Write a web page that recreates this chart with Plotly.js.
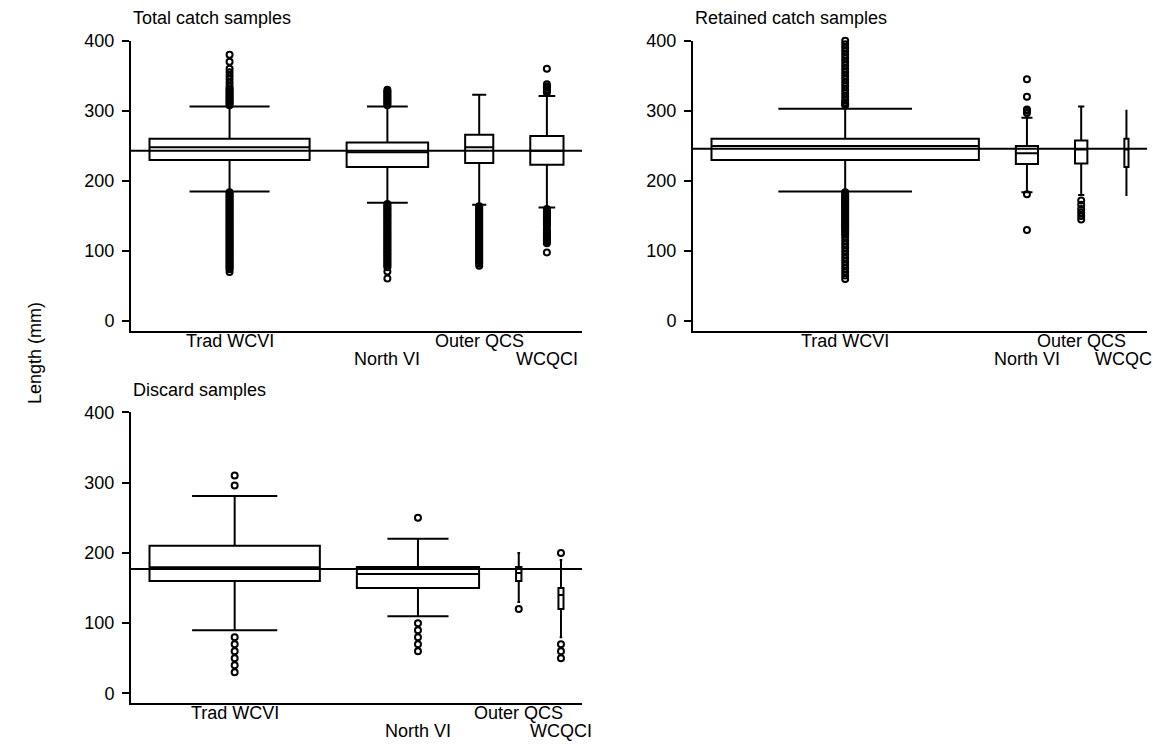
<!DOCTYPE html>
<html>
<head>
<meta charset="utf-8">
<script src="https://cdn.plot.ly/plotly-3.0.1.min.js"></script>
<style>html,body{margin:0;padding:0;background:#fff;}#chart{width:1153px;height:745px;}</style>
</head>
<body>
<div id="chart"></div>
<script>
// ---------------- data ----------------
const groups = ['Trad WCVI', 'North VI', 'Outer QCS', 'WCQCI'];
const panelTitles = ['Total catch samples', 'Retained catch samples', 'Discard samples'];
const yTickVals = [0, 100, 200, 300, 400];
const yAxisTitle = 'Length (mm)';

// Total catch samples
const totalN = [25300, 6560, 780, 1090];
const totalLowerFence = [185, 169, 166, 162];
const totalQ1 = [230, 220, 225.5, 223];
const totalMedian = [248, 241, 248, 243];
const totalQ3 = [260, 255, 266, 264];
const totalUpperFence = [306, 306, 323, 321];
const totalOverallMedian = 243;
const totalOutliers = [
  [308,310,312,314,316,318,320,322,324,326,328,330,332,335,340,345,350,355,360,370,380,
   184,182,180,178,176,174,172,170,168,166,164,162,160,158,156,154,152,150,148,146,144,142,140,138,136,134,132,130,128,126,124,122,120,118,116,114,112,110,108,106,104,102,100,98,96,94,92,90,88,86,84,82,80,78,76,74,70],
  [308,310,312,314,316,318,320,322,324,326,328,330,
   167,165,163,161,159,157,155,153,151,149,147,145,143,141,139,137,135,133,131,129,127,125,123,121,119,117,115,113,111,109,107,105,103,101,99,97,95,93,91,89,87,85,83,81,79,77,71,61],
  [164,162,160,158,156,154,152,150,148,146,144,142,140,138,136,134,132,130,128,126,124,122,120,118,116,114,112,110,108,106,104,102,100,98,96,94,92,90,88,86,84,82,79],
  [326,328,330,333,335,338,360,
   160,158,156,154,152,150,148,146,144,142,140,138,136,131,129,127,125,123,121,119,117,115,113,111,98]
];

// Retained catch samples
const retainedN = [21000, 144, 45, 5];
const retainedLowerFence = [185, 184, 180, 180];
const retainedQ1 = [230, 224, 225, 220];
const retainedMedian = [250, 239.5, 245, 245];
const retainedQ3 = [260, 250, 257.5, 260];
const retainedUpperFence = [303, 290, 306, 300];
const retainedOverallMedian = 246;
const retainedOutliers = [
  [308,310,312,315,320,325,330,335,340,345,350,355,360,365,370,375,380,385,390,395,400,
   184,182,180,178,176,174,172,170,168,166,164,162,160,158,156,154,152,150,148,146,144,142,140,138,136,134,132,130,127,124,120,115,110,105,100,95,90,85,80,75,70,65,60],
  [345,320,302,300,297,181,130],
  [172,166,160,155,150,145],
  []
];

// Discard samples
const discardN = [28300, 14570, 28, 25];
const discardLowerFence = [90, 110, 130, 80];
const discardQ1 = [160, 150, 160, 120];
const discardMedian = [179.5, 170, 171.5, 140];
const discardQ3 = [210, 180, 180, 150];
const discardUpperFence = [281, 220, 200, 190];
const discardOverallMedian = 177;
const discardOutliers = [
  [310,296,80,70,60,50,40,30],
  [250,100,90,80,70,60],
  [120],
  [200,70,60,50]
];

// ---------------- layout helpers ----------------
const W = 1153, H = 745;
const FONT = 'Liberation Sans, Arial, Helvetica, sans-serif';
const FS = 18;
const LW = 2;

function placeBoxes(n, axisPx) {
  const pad = 18.5 / axisPx, gap = 37 / axisPx;
  const boxTotal = 1 - 2 * pad - 3 * gap;
  const s = n.map(Math.sqrt);
  const tot = s.reduce((a, b) => a + b, 0);
  const widths = s.map(v => v / tot * boxTotal);
  let cur = pad;
  const centers = widths.map(w => { const c = cur + w / 2; cur += w + gap; return c; });
  return { widths, centers };
}

const panels = [
  { n: totalN, lf: totalLowerFence, q1: totalQ1, med: totalMedian, q3: totalQ3, uf: totalUpperFence, ref: totalOverallMedian, out: totalOutliers,
    px: [131, 582], py: [331, 40.7] },
  { n: retainedN, lf: retainedLowerFence, q1: retainedQ1, med: retainedMedian, q3: retainedQ3, uf: retainedUpperFence, ref: retainedOverallMedian, out: retainedOutliers,
    px: [693, 1147], py: [331, 40.7] },
  { n: discardN, lf: discardLowerFence, q1: discardQ1, med: discardMedian, q3: discardQ3, uf: discardUpperFence, ref: discardOverallMedian, out: discardOutliers,
    px: [131, 582], py: [703.3, 412.3] }
];
const titleY = [18, 18, 390];

const traces = [];
const annotations = [];
const shapes = [];
const layout = {
  width: W, height: H,
  margin: { l: 0, r: 0, t: 0, b: 0, pad: 0 },
  paper_bgcolor: '#fff', plot_bgcolor: 'rgba(0,0,0,0)',
  showlegend: false,
  font: { family: FONT, size: FS, color: '#000' },
  annotations, shapes
};

panels.forEach((p, k) => {
  const sfx = k === 0 ? '' : String(k + 1);
  const xa = 'x' + sfx, ya = 'y' + sfx;
  const xd = [p.px[0] / W, p.px[1] / W];
  const yd = [1 - p.py[0] / H, 1 - p.py[1] / H];
  const { widths, centers } = placeBoxes(p.n, p.px[1] - p.px[0]);

  layout['xaxis' + sfx] = {
    domain: xd, anchor: ya, range: [0, 1], fixedrange: true,
    showgrid: false, zeroline: false, showticklabels: false, ticks: '',
    showline: true, linecolor: '#000', linewidth: LW
  };
  layout['yaxis' + sfx] = {
    domain: yd, anchor: xa, range: [-14, 400], fixedrange: true,
    showgrid: false, zeroline: false,
    tickmode: 'array', tickvals: yTickVals, ticktext: yTickVals.map(String),
    ticks: 'outside', ticklen: 7, tickwidth: LW, tickcolor: '#000',
    tickfont: { family: FONT, size: FS, color: '#000' },
    ticklabelstandoff: 4,
    showline: true, linecolor: '#000', linewidth: LW
  };

  groups.forEach((g, i) => {
    traces.push({
      type: 'box', xaxis: xa, yaxis: ya,
      x: [centers[i]],
      q1: [p.q1[i]], median: [p.med[i]], q3: [p.q3[i]],
      lowerfence: [p.lf[i]], upperfence: [p.uf[i]],
      width: widths[i], whiskerwidth: 0.5,
      boxpoints: false, fillcolor: '#fff',
      line: { color: '#000', width: LW },
      hoverinfo: 'skip', name: g
    });
    if (p.out[i].length) {
      traces.push({
        type: 'scatter', mode: 'markers', xaxis: xa, yaxis: ya,
        x: p.out[i].map(() => centers[i]), y: p.out[i],
        marker: { symbol: 'circle-open', size: 6, color: '#000', line: { color: '#000', width: 2 } },
        cliponaxis: false, hoverinfo: 'skip', name: g
      });
    }
    annotations.push({
      xref: xa, yref: 'paper', x: centers[i], y: yd[0],
      xanchor: 'center', yanchor: 'middle', yshift: (i % 2 === 0) ? -9.5 : -28,
      text: g, showarrow: false, font: { family: FONT, size: FS, color: '#000' }
    });
  });

  shapes.push({
    type: 'line', xref: xa + ' domain', yref: ya, x0: 0, x1: 1, y0: p.ref, y1: p.ref,
    line: { color: '#000', width: LW }, layer: 'above'
  });

  annotations.push({
    xref: 'paper', yref: 'paper', x: xd[0], y: 1 - titleY[k] / H,
    xanchor: 'left', yanchor: 'middle', text: panelTitles[k], showarrow: false,
    font: { family: FONT, size: FS, color: '#000' }
  });
});

annotations.push({
  xref: 'paper', yref: 'paper', x: 35 / W, y: 1 - 353 / H,
  xanchor: 'center', yanchor: 'middle', textangle: -90,
  text: yAxisTitle, showarrow: false, font: { family: FONT, size: FS, color: '#000' }
});

Plotly.newPlot('chart', traces, layout, { staticPlot: true, displayModeBar: false });
</script>
</body>
</html>
